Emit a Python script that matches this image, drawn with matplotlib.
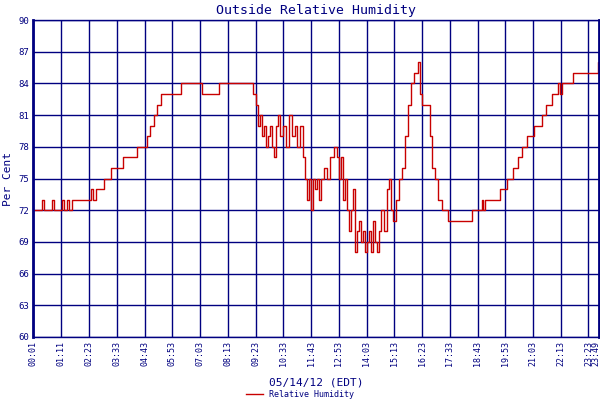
import matplotlib
matplotlib.use("Agg")
import matplotlib.pyplot as plt
import matplotlib.transforms as mtransforms

# minutes after midnight, humidity %
minutes = [1, 19, 24, 29, 49, 54, 74, 79, 87, 92, 99, 107, 147, 152, 160, 180, 198, 228, 263,
           289, 296, 306, 314, 324, 374, 427, 470, 556, 563, 568, 573, 579, 584, 590, 595, 599,
           604, 609, 615, 619, 624, 632, 639, 647, 655, 662, 667, 675, 682, 687, 692, 697, 702,
           707, 712, 717, 723, 728, 735, 743, 750, 760, 768, 773, 778, 783, 788, 793, 798, 803,
           808, 813, 818, 823, 828, 833, 838, 843, 849, 854, 859, 864, 869, 874, 879, 887, 894,
           899, 904, 909, 917, 924, 932, 939, 947, 954, 962, 972, 977, 982, 997, 1002, 1007,
           1015, 1023, 1033, 1048, 1109, 1129, 1134, 1137, 1142, 1179, 1197, 1212, 1225, 1235,
           1247, 1265, 1285, 1295, 1310, 1325, 1330, 1336, 1363, 1424, 1426, 1429]
humidity = [72, 72, 73, 72, 73, 72, 73, 72, 73, 72, 73, 73, 74, 73, 74, 75, 76, 77, 78,
            79, 80, 81, 82, 83, 84, 83, 84, 83, 82, 80, 81, 79, 80, 78, 79, 80,
            78, 77, 80, 81, 79, 80, 78, 81, 79, 80, 78, 80, 77, 75, 73, 75, 72,
            75, 74, 75, 73, 75, 76, 75, 77, 78, 77, 75, 77, 73, 75, 72, 70, 72,
            74, 68, 70, 71, 69, 70, 68, 69, 70, 68, 71, 69, 68, 70, 72, 70, 74,
            75, 72, 71, 73, 75, 76, 79, 82, 84, 85, 86, 83, 82, 82, 79, 76,
            75, 73, 72, 71, 72, 72, 73, 72, 73, 74, 75, 76, 77, 78,
            79, 80, 81, 82, 83, 84, 83, 84, 85, 85, 86, 86]

tick_minutes = [1, 71, 143, 213, 283, 353, 423, 493, 563, 633, 703, 773, 843, 913, 983,
                1053, 1123, 1193, 1263, 1333, 1403, 1429]
tick_labels = ["00:01", "01:11", "02:23", "03:33", "04:43", "05:53", "07:03", "08:13",
               "09:23", "10:33", "11:43", "12:53", "14:03", "15:13", "16:23", "17:33",
               "18:43", "19:53", "21:03", "22:13", "23:23", "23:49"]
y_ticks = list(range(60, 91, 3))

navy = "#000080"
mono = "DejaVu Sans Mono"

fig = plt.figure(figsize=(6, 4), dpi=100)
ax = fig.add_axes([0.055, 0.1575, 0.943, 0.7925])

ax.plot(minutes, humidity, color="#c80000", lw=1.0, drawstyle="steps-post",
        label="Relative Humidity")
ax.set_xlim(1, 1429)
ax.set_ylim(60, 90)
ax.set_xticks(tick_minutes)
ax.set_xticklabels(tick_labels, rotation=90, fontsize=6, family=mono, color=navy)
ax.set_yticks(y_ticks)
ax.set_yticklabels([str(v) for v in y_ticks], fontsize=6.5, family=mono, color=navy)
ax.tick_params(length=0, pad=3)
ax.grid(True, color=navy, lw=1)
for s in ax.spines.values():
    s.set_color(navy)
    s.set_linewidth(1)
ax.spines["left"].set_linewidth(2)
ax.spines["right"].set_linewidth(2)

# nudge the last label so it stays inside the figure
last = ax.get_xticklabels()[-1]
last.set_transform(last.get_transform() +
                   mtransforms.ScaledTranslation(-3 / 100, 0, fig.dpi_scale_trans))

ax.set_title("Outside Relative Humidity", fontsize=9.5, family=mono, color=navy, pad=4)
ax.set_ylabel("Per Cent", fontsize=8, family=mono, color=navy, labelpad=4)
ax.set_xlabel("05/14/12 (EDT)", fontsize=8, family=mono, color=navy, labelpad=8)

fig.legend(loc="lower center", bbox_to_anchor=(0.5, -0.01), frameon=False,
           prop={"family": mono, "size": 6}, labelcolor=navy, handlelength=2,
           borderpad=0.1)

fig.savefig("out.png", dpi=100)
